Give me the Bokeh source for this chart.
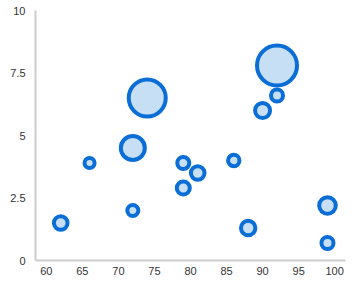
from bokeh.plotting import figure
from bokeh.models import ColumnDataSource, FixedTicker, Range1d
from bokeh.embed import file_html
from bokeh.resources import INLINE

# data
x_vals = [62, 66, 72, 72, 74, 79, 79, 81, 86, 88, 90, 92, 92, 99, 99]
y_vals = [1.5, 3.9, 2.0, 4.5, 6.5, 3.9, 2.9, 3.5, 4.0, 1.3, 6.0, 6.6, 7.8, 2.2, 0.7]
z_vals = [3.8, 2.0, 2.5, 9.0, 15.5, 3.0, 3.5, 3.8, 2.7, 4.2, 4.5, 3.0, 17.0, 5.3, 3.0]
x_ticks = [60, 65, 70, 75, 80, 85, 90, 95, 100]
y_ticks = [0, 2.5, 5, 7.5, 10]
y_tick_labels = ["0", "2.5", "5", "7.5", "10"]

LW = 4
sizes = [10 + 2 * z - LW for z in z_vals]

src = ColumnDataSource(dict(x=x_vals, y=y_vals, s=sizes))

p = figure(width=353, height=298, output_backend="svg", toolbar_location=None,
           x_range=Range1d(58.5, 101.5), y_range=Range1d(0, 10),
           min_border_left=35, min_border_right=8, min_border_top=10,
           min_border_bottom=38)
p.outline_line_color = None
p.xgrid.visible = False
p.ygrid.visible = False

p.scatter("x", "y", size="s", source=src, fill_color="#c7dff5",
          line_color="#0a6ed6", line_width=LW)

for ax in (p.xaxis[0], p.yaxis[0]):
    ax.axis_line_color = "#cccccc"
    ax.axis_line_width = 2
    ax.major_tick_line_color = None
    ax.minor_tick_line_color = None
    ax.major_tick_out = 0
    ax.major_tick_in = 0
    ax.minor_tick_out = 0
    ax.major_label_text_font = "Liberation Sans"
    ax.major_label_text_font_size = "11px"
    ax.major_label_text_color = "#333333"

p.xaxis[0].ticker = FixedTicker(ticks=x_ticks)
p.xaxis[0].major_label_standoff = 6
p.yaxis[0].ticker = FixedTicker(ticks=y_ticks)
p.yaxis[0].major_label_overrides = {t: l for t, l in zip(y_ticks, y_tick_labels)}
p.yaxis[0].major_label_standoff = 10

open("out.html", "w").write(file_html(p, INLINE))
